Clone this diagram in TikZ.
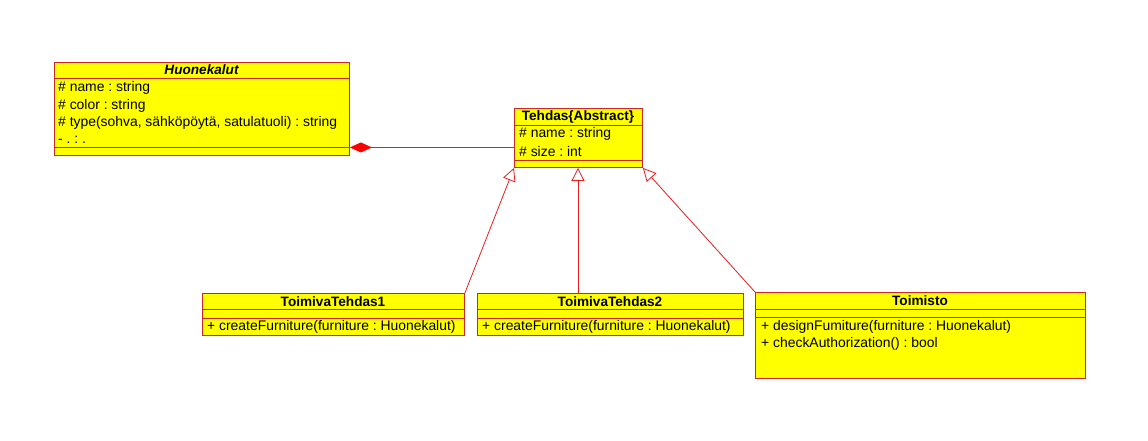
\documentclass[tikz,border=0pt]{standalone}
\usepackage{fontspec}
\setmainfont{Liberation Sans}
\usetikzlibrary{arrows.meta}
\definecolor{umlfill}{RGB}{255,255,0}
\definecolor{umlborder}{RGB}{204,40,40}
\definecolor{umlline}{RGB}{230,30,30}
\frenchspacing
\begin{document}
\begin{tikzpicture}[x=1pt,y=-1pt,
  classbox/.style={draw=umlborder, fill=umlfill, line width=0.9pt, inner sep=0pt, anchor=north west},
  sepline/.style={draw=umlborder, line width=0.9pt},
  txt/.style={anchor=west, inner sep=0pt, font=\fontsize{13.9}{15}\selectfont},
  ttl/.style={inner sep=0pt, font=\fontsize{13.6}{15}\selectfont\bfseries},
  conn/.style={draw=umlline, line width=0.8pt},
  inherit/.style={conn, -{Triangle[open, fill=white, length=13pt, width=13pt]}},
  compo/.style={conn, -{Diamond[color=red, fill=red, length=22pt, width=10pt]}}
]
\useasboundingbox (0,0) rectangle (1148,440);
\fill[white] (0,0) rectangle (1148,440);

% Huonekalut
\node[classbox, minimum width=295pt, minimum height=93pt] (huo) at (54,62) {};
\draw[sepline] (54,78) -- (349,78);
\draw[sepline] (54,147) -- (349,147);
\node[ttl] (huot) at (201.5,70) {\itshape Huonekalut};
\node[txt] (huo1) at (58,88) {\# name : string};
\node[txt] (huo2) at (58,105.5) {\# color : string};
\node[txt] (huo3) at (58,122.5) {\# type(sohva, sähköpöytä, satulatuoli) : string};
\node[txt] (huo4) at (58,139.5) {- . : .};

% Tehdas
\node[classbox, minimum width=128pt, minimum height=59pt] (teh) at (514,108) {};
\draw[sepline] (514,125) -- (642,125);
\draw[sepline] (514,160) -- (642,160);
\node[ttl] (teht) at (578,117) {Tehdas\{Abstract\}};
\node[txt] (teh1) at (519,134) {\# name : string};
\node[txt] (teh2) at (519,152) {\# size : int};

% ToimivaTehdas1
\node[classbox, minimum width=262pt, minimum height=42pt] (t1) at (202,293) {};
\draw[sepline] (202,309) -- (464,309);
\draw[sepline] (202,318) -- (464,318);
\node[ttl] (t1t) at (333,301.5) {ToimivaTehdas1};
\node[txt] (t1a) at (207,327) {+ createFurniture(furniture : Huonekalut)};

% ToimivaTehdas2
\node[classbox, minimum width=266pt, minimum height=42pt] (t2) at (477,293) {};
\draw[sepline] (477,309) -- (743,309);
\draw[sepline] (477,318) -- (743,318);
\node[ttl] (t2t) at (610,301.5) {ToimivaTehdas2};
\node[txt] (t2a) at (482,327) {+ createFurniture(furniture : Huonekalut)};

% Toimisto
\node[classbox, minimum width=330pt, minimum height=86pt] (toi) at (755,292) {};
\draw[sepline] (755,309) -- (1085,309);
\draw[sepline] (755,317) -- (1085,317);
\node[ttl] (toit) at (920,300.5) {Toimisto};
\node[txt] (toi1) at (761,326.5) {+ designFumiture(furniture : Huonekalut)};
\node[txt] (toi2) at (761,343.5) {+ checkAuthorization() : bool};

% connectors
\draw[compo] ([yshift=-9.5pt]teh.west) -- ([yshift=-38.5pt]huo.east);
\draw[inherit] (t1.north east) -- (teh.south west);
\draw[inherit] (t2.north -| teht.south) -- (teh.south -| teht.south);
\draw[inherit] (toi.north west) -- (teh.south east);
\end{tikzpicture}
\end{document}
